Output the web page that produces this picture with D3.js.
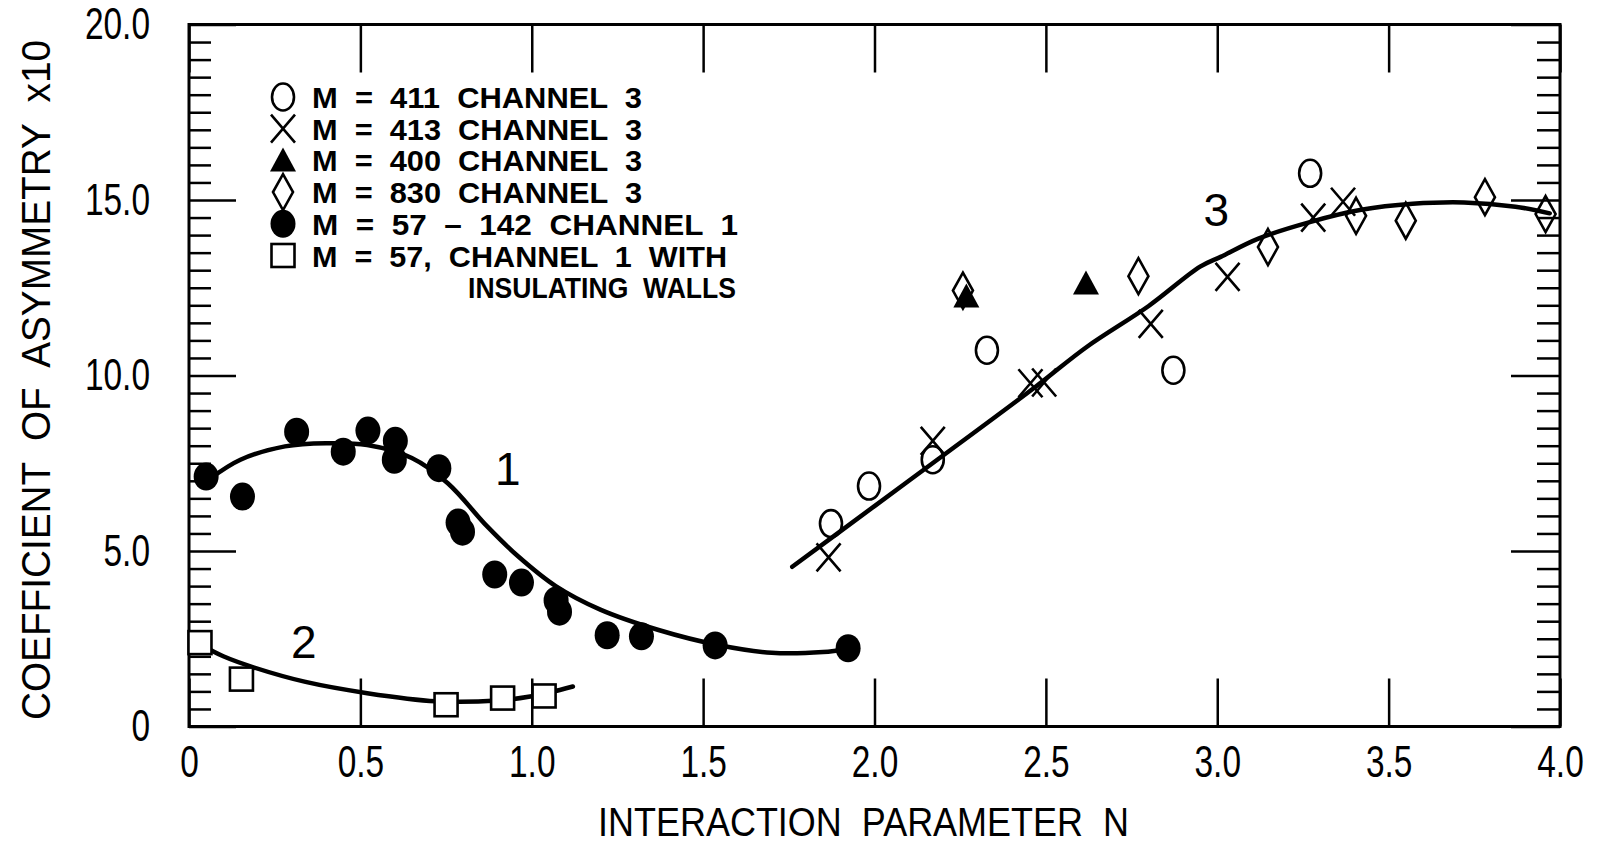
<!DOCTYPE html>
<html>
<head>
<meta charset="utf-8">
<script src="https://cdn.jsdelivr.net/npm/d3@7"></script>
<style>
body { margin:0; background:#fff; }
text { font-family:'Liberation Sans', Arial, sans-serif; fill:#000; }
.tick line { stroke:#000; stroke-width:2.5px; }
.tick text { font-size:44px; }
</style>
</head>
<body>
<div id="chart"></div>
<script>
// ---- DATA ----
var xTicks = [0, 0.5, 1, 1.5, 2, 2.5, 3, 3.5, 4];
var xTickLabels = ['0', '0.5', '1.0', '1.5', '2.0', '2.5', '3.0', '3.5', '4.0'];
var yTicks = [0, 5, 10, 15, 20];
var yTickLabels = ['0', '5.0', '10.0', '15.0', '20.0'];

// M = 57 - 142, channel 1 (filled circles)
var ch1Points = [[0.05,7.12],[0.156,6.55],[0.314,8.40],[0.45,7.83],[0.522,8.43],[0.602,8.14],
    [0.599,7.60],[0.729,7.36],[0.785,5.81],[0.798,5.55],[0.892,4.33],[0.970,4.10],
    [1.071,3.59],[1.081,3.27],[1.220,2.60],[1.320,2.57],[1.535,2.31],[1.923,2.23]];
// M = 57, channel 1 with insulating walls (squares)
var wallPoints = [[0.032,2.39],[0.153,1.35],[0.75,0.62],[0.915,0.81],[1.036,0.87]];
// channel 3
var m411Points = [[1.873,5.78],[1.984,6.85],[2.170,7.60],[2.328,10.72],[2.872,10.15],[3.271,15.76]];
var m413Points = [[1.866,4.82],[2.170,8.14],[2.455,9.78],[2.495,9.80],[2.806,11.47],[3.030,12.81],[3.280,14.50],[3.367,14.95]];
var m400Points = [[2.268,12.25],[2.617,12.62]];
var m830Points = [[2.258,12.42],[2.770,12.83],[3.148,13.66],[3.405,14.55],[3.550,14.41],[3.781,15.08],[3.958,14.60]];

// fitted curves
var curve1 = [[0.06,7.05],[0.15,7.6],[0.28,7.98],[0.40,8.07],[0.52,8.02],[0.65,7.65],[0.755,6.93],
    [0.87,5.7],[0.96,4.85],[1.07,4.0],[1.20,3.33],[1.37,2.75],[1.54,2.33],[1.70,2.1],[1.85,2.12],[1.92,2.2]];
var curve2 = [[0.04,2.3],[0.10,2.0],[0.19,1.68],[0.34,1.27],[0.52,0.95],[0.72,0.72],[0.90,0.74],[1.0,0.86],[1.12,1.14]];
var curve3 = [[1.76,4.55],[2.0,6.28],[2.2,7.72],[2.47,9.68],[2.62,10.82],[2.80,11.98],[2.95,13.1],
    [3.01,13.38],[3.12,13.9],[3.27,14.37],[3.42,14.72],[3.57,14.89],[3.72,14.93],[3.87,14.81],[3.97,14.62]];

var curveLabels = [{t:'1', x:0.93, y:6.88}, {t:'2', x:0.335, y:1.95}, {t:'3', x:2.997, y:14.25}];

var legendRows = [
    {sym:'circle', text:'M  =  411  CHANNEL  3', len:330},
    {sym:'cross', text:'M  =  413  CHANNEL  3', len:330},
    {sym:'triangle', text:'M  =  400  CHANNEL  3', len:330},
    {sym:'diamond', text:'M  =  830  CHANNEL  3', len:330},
    {sym:'dot', text:'M  =  57  \u2013  142  CHANNEL  1', len:426},
    {sym:'square', text:'M  =  57,  CHANNEL  1  WITH', len:415}
];

// ---- CONVENTIONS ----
var margin = {top:24.5, right:42, bottom:119.5, left:189};
var outerWidth = 1602, outerHeight = 846;
var width = outerWidth - margin.left - margin.right,
    height = outerHeight - margin.top - margin.bottom;

var svg = d3.select('#chart').append('svg')
    .attr('width', outerWidth)
    .attr('height', outerHeight);
var plot = svg.append('g')
    .attr('transform', 'translate(' + margin.left + ',' + margin.top + ')');

// ---- SCALES ----
var scaleX = d3.scaleLinear().domain([0, 4]).range([0, width]);
var scaleY = d3.scaleLinear().domain([0, 20]).range([height, 0]);

var minorY = d3.range(0, 20.01, 0.5).filter(function(v){ return v % 5 !== 0; });

// ---- AXES ----
function clean(g){ g.select('.domain').remove(); }

plot.append('g').attr('class', 'axis axis-x')
    .attr('transform', 'translate(0,' + height + ')')
    .call(d3.axisBottom(scaleX).tickValues(xTicks).tickSize(-48).tickPadding(19)
        .tickFormat(function(d, i){ return xTickLabels[i]; }))
    .call(clean);
plot.append('g').attr('class', 'axis axis-x-top')
    .call(d3.axisTop(scaleX).tickValues(xTicks).tickSize(-48).tickFormat(''))
    .call(clean);

plot.append('g').attr('class', 'axis axis-y')
    .call(d3.axisLeft(scaleY).tickValues(yTicks).tickSize(-47).tickPadding(39)
        .tickFormat(function(d, i){ return yTickLabels[i]; }))
    .call(clean);
plot.append('g').attr('class', 'axis axis-y-minor')
    .call(d3.axisLeft(scaleY).tickValues(minorY).tickSize(-22).tickFormat(''))
    .call(clean);
plot.append('g').attr('class', 'axis axis-y-right')
    .attr('transform', 'translate(' + width + ',0)')
    .call(d3.axisRight(scaleY).tickValues(yTicks).tickSize(-49).tickFormat(''))
    .call(clean);
plot.append('g').attr('class', 'axis axis-y-right-minor')
    .attr('transform', 'translate(' + width + ',0)')
    .call(d3.axisRight(scaleY).tickValues(minorY).tickSize(-23).tickFormat(''))
    .call(clean);

// narrow the tick labels like the condensed lettering of the original
plot.selectAll('.axis text')
    .attr('font-family', null)
    .each(function(){
        var w = this.getComputedTextLength();
        d3.select(this).attr('textLength', w * 0.76).attr('lengthAdjust', 'spacingAndGlyphs');
    });

// frame
plot.append('rect')
    .attr('width', width).attr('height', height)
    .style('fill', 'none').style('stroke', '#000').style('stroke-width', '3px');

// axis titles
svg.append('text')
    .attr('x', margin.left + scaleX(2.0) - 11)
    .attr('y', 836)
    .attr('text-anchor', 'middle')
    .attr('textLength', 531)
    .attr('lengthAdjust', 'spacingAndGlyphs')
    .style('font-size', '41px')
    .style('white-space', 'pre')
    .text('INTERACTION  PARAMETER  N');

svg.append('text')
    .attr('transform', 'translate(50,380) rotate(-90)')
    .attr('text-anchor', 'middle')
    .attr('textLength', 680)
    .attr('lengthAdjust', 'spacingAndGlyphs')
    .style('font-size', '40px')
    .style('white-space', 'pre')
    .text('COEFFICIENT  OF  ASYMMETRY  x10');

// ---- GENERATORS ----
var lineGenerator = d3.line()
    .x(function(d){ return scaleX(d[0]); })
    .y(function(d){ return scaleY(d[1]); })
    .curve(d3.curveCatmullRom.alpha(0.5));

[curve1, curve2, curve3].forEach(function(c){
    plot.append('path')
        .datum(c)
        .attr('d', lineGenerator)
        .style('fill', 'none')
        .style('stroke', '#000')
        .style('stroke-width', '4.5px')
        .style('stroke-linecap', 'round');
});

// ---- MARKERS ----
function marker(g, sym, cx, cy){
    var s = g.append('g').attr('transform', 'translate(' + cx + ',' + cy + ')');
    if (sym === 'dot') {
        s.append('ellipse').attr('rx', 12.5).attr('ry', 14).style('fill', '#000');
    } else if (sym === 'circle') {
        s.append('ellipse').attr('rx', 11).attr('ry', 13.5)
            .style('fill', 'none').style('stroke', '#000').style('stroke-width', '2.6px');
    } else if (sym === 'cross') {
        s.append('path').attr('d', 'M-12,-14L12,14M-12,14L12,-14')
            .style('stroke', '#000').style('stroke-width', '2.6px');
    } else if (sym === 'triangle') {
        s.append('path').attr('d', 'M0,-13L13,11L-13,11Z').style('fill', '#000');
    } else if (sym === 'diamond') {
        s.append('path').attr('d', 'M0,-18L10,0L0,18L-10,0Z')
            .style('fill', 'none').style('stroke', '#000').style('stroke-width', '2.6px');
    } else if (sym === 'square') {
        s.append('rect').attr('x', -11.5).attr('y', -11.5).attr('width', 23).attr('height', 23)
            .style('fill', '#fff').style('stroke', '#000').style('stroke-width', '2.6px');
    }
}

function drawSeries(pts, sym){
    pts.forEach(function(d){ marker(plot, sym, scaleX(d[0]), scaleY(d[1])); });
}

drawSeries(ch1Points, 'dot');
drawSeries(wallPoints, 'square');
drawSeries(m411Points, 'circle');
drawSeries(m413Points, 'cross');
drawSeries(m830Points, 'diamond');
drawSeries(m400Points, 'triangle');

// curve labels
plot.selectAll('.curve-label')
    .data(curveLabels)
    .enter().append('text')
    .attr('class', 'curve-label')
    .attr('x', function(d){ return scaleX(d.x); })
    .attr('y', function(d){ return scaleY(d.y); })
    .attr('text-anchor', 'middle')
    .style('font-size', '46px')
    .text(function(d){ return d.t; });

// ---- LEGEND ----
var legend = svg.append('g').attr('class', 'legend');
legendRows.forEach(function(r, i){
    var cy = 97 + i * 31.7;
    marker(legend, r.sym, 283, cy);
    legend.append('text')
        .attr('x', 312).attr('y', cy + 11)
        .attr('textLength', r.len)
        .attr('lengthAdjust', 'spacingAndGlyphs')
        .style('font-size', '30px')
        .style('font-weight', 'bold')
        .style('white-space', 'pre')
        .text(r.text);
});
legend.append('text')
    .attr('x', 468).attr('y', 97 + 6 * 31.7 + 11)
    .attr('textLength', 268)
    .attr('lengthAdjust', 'spacingAndGlyphs')
    .style('font-size', '30px')
    .style('font-weight', 'bold')
    .style('white-space', 'pre')
    .text('INSULATING  WALLS');
</script>
</body>
</html>
